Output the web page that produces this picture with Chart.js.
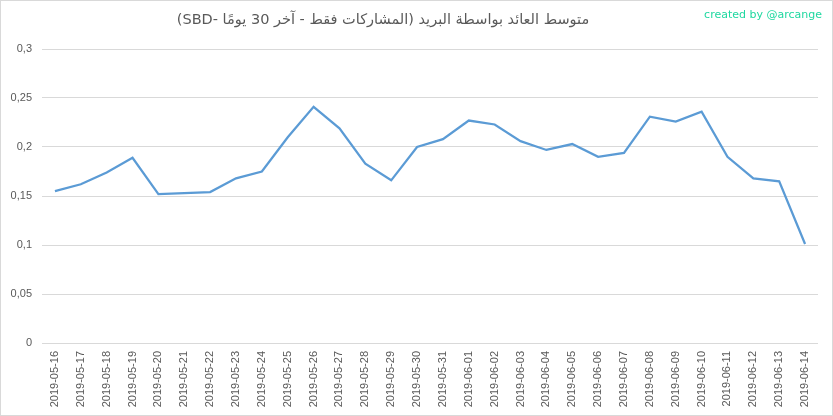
<!DOCTYPE html>
<html>
<head>
<meta charset="utf-8">
<script src="https://cdn.jsdelivr.net/npm/chart.js@4"></script>
<style>
    html, body { margin: 0; padding: 0; background: #fff; }
    #wrap { width: 833px; height: 416px; position: relative; }
</style>
</head>
<body>
<div id="wrap"><canvas id="payoutChart" width="833" height="416"></canvas></div>
<script>
// data
const chartTitle = 'متوسط العائد بواسطة البريد (المشاركات فقط - آخر 30 يومًا -SBD)';
const creditText = 'created by @arcange';

const dates = [
    '2019-05-16', '2019-05-17', '2019-05-18', '2019-05-19', '2019-05-20',
    '2019-05-21', '2019-05-22', '2019-05-23', '2019-05-24', '2019-05-25',
    '2019-05-26', '2019-05-27', '2019-05-28', '2019-05-29', '2019-05-30',
    '2019-05-31', '2019-06-01', '2019-06-02', '2019-06-03', '2019-06-04',
    '2019-06-05', '2019-06-06', '2019-06-07', '2019-06-08', '2019-06-09',
    '2019-06-10', '2019-06-11', '2019-06-12', '2019-06-13', '2019-06-14'
];

const avgPayout = [
    0.155, 0.162, 0.174, 0.189, 0.152,
    0.153, 0.154, 0.168, 0.175, 0.210,
    0.241, 0.219, 0.183, 0.166, 0.200,
    0.208, 0.227, 0.223, 0.206, 0.197,
    0.203, 0.190, 0.194, 0.231, 0.226,
    0.236, 0.190, 0.168, 0.165, 0.101
];

const yTicks = [0, 0.05, 0.1, 0.15, 0.2, 0.25, 0.3];

const labelFont = { family: '"Liberation Sans", Arial, sans-serif', size: 11 };

// title, credit and outer frame
const decorations = {
    id: 'decorations',
    afterDraw(chart) {
        const ctx = chart.ctx;
        ctx.save();
        ctx.strokeStyle = '#d9d9d9';
        ctx.lineWidth = 1;
        ctx.strokeRect(0.5, 0.5, chart.width - 1, chart.height - 1);

        ctx.direction = 'rtl';
        ctx.fillStyle = '#595959';
        ctx.font = '14.5px "DejaVu Sans", "Liberation Sans", sans-serif';
        ctx.textAlign = 'center';
        ctx.textBaseline = 'middle';
        ctx.fillText(chartTitle, 383, 20);

        ctx.direction = 'ltr';
        ctx.fillStyle = '#1fd8a0';
        ctx.font = '11px "DejaVu Sans", sans-serif';
        ctx.textAlign = 'right';
        ctx.fillText(creditText, 822, 15);
        ctx.restore();
    }
};

const ctx = document.getElementById('payoutChart').getContext('2d');

new Chart(ctx, {
    type: 'line',
    data: {
        labels: dates,
        datasets: [{
            data: avgPayout,
            borderColor: '#5b9bd5',
            borderWidth: 2.25,
            pointRadius: 0,
            tension: 0,
            fill: false
        }]
    },
    options: {
        responsive: false,
        animation: false,
        layout: { padding: { top: 49, right: 15, bottom: 0, left: 0 } },
        plugins: {
            legend: { display: false },
            title: { display: false },
            tooltip: { enabled: false }
        },
        scales: {
            x: {
                offset: true,
                grid: { display: false },
                border: { display: false },
                ticks: {
                    autoSkip: false,
                    minRotation: 90,
                    maxRotation: 90,
                    padding: 0,
                    color: '#595959',
                    font: labelFont
                },
                afterFit: function(scale) { scale.height = 73; }
            },
            y: {
                min: 0,
                max: 0.3,
                afterBuildTicks: function(scale) {
                    scale.ticks = yTicks.map(v => ({ value: v }));
                },
                grid: { color: '#d9d9d9', lineWidth: 1, drawTicks: false },
                border: { display: false },
                ticks: {
                    padding: 10,
                    color: '#595959',
                    font: labelFont,
                    callback: function(value) {
                        return String(Number(value.toFixed(2))).replace('.', ',');
                    }
                },
                afterFit: function(scale) { scale.width = 42; }
            }
        }
    },
    plugins: [decorations]
});
</script>
</body>
</html>
